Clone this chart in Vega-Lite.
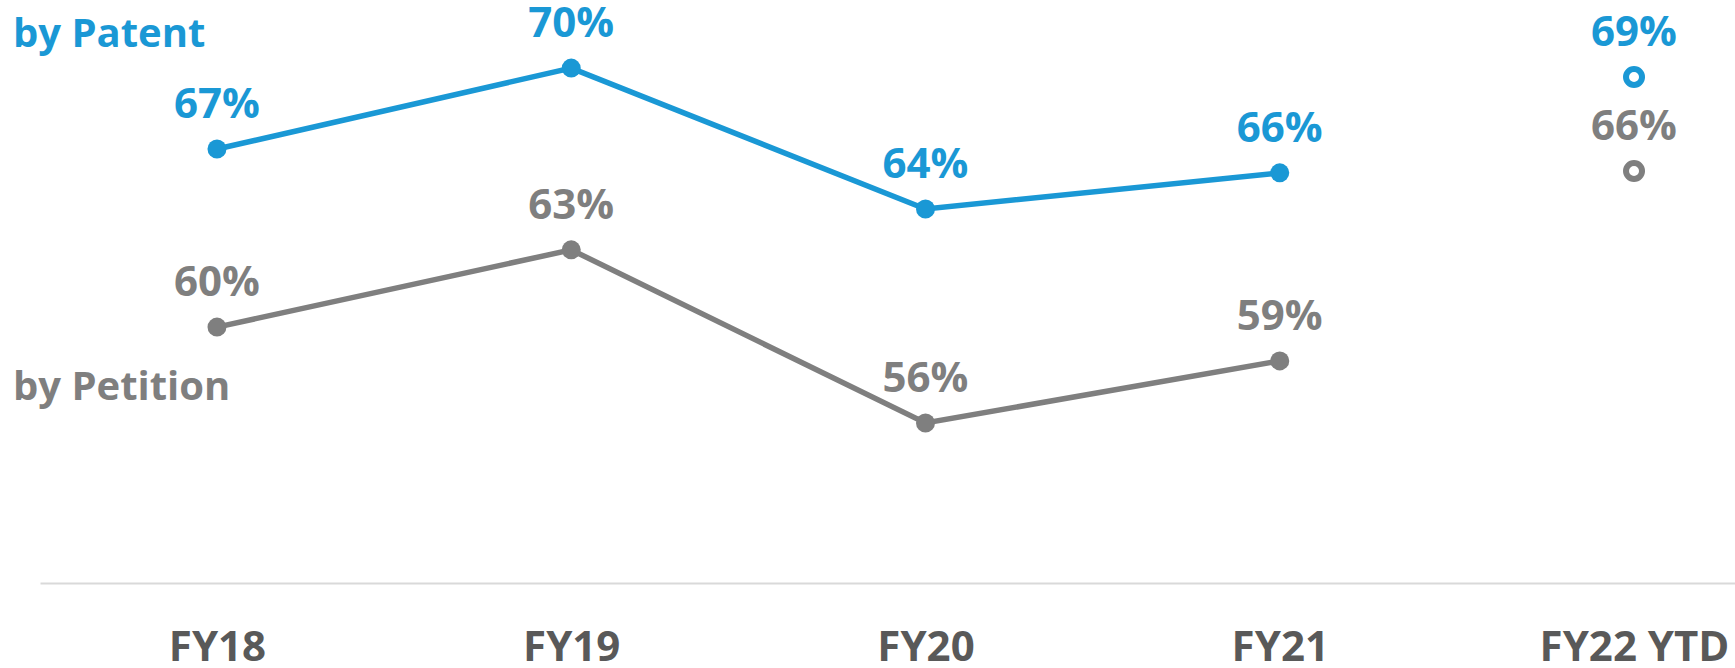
{
  "$schema": "https://vega.github.io/schema/vega-lite/v6.json",
  "width": 1695,
  "height": 583,
  "autosize": {"type": "none"},
  "padding": {"left": 40, "top": 0, "right": 0, "bottom": 85},
  "background": "white",
  "config": {
    "view": {"stroke": null},
    "font": "Open Sans"
  },
  "data": {
    "values": [
      {"year": "FY18", "series": "Patent", "value": 0.6674, "ytd": false},
      {"year": "FY19", "series": "Patent", "value": 0.6983, "ytd": false},
      {"year": "FY20", "series": "Patent", "value": 0.6445, "ytd": false},
      {"year": "FY21", "series": "Patent", "value": 0.6583, "ytd": false},
      {"year": "FY22 YTD", "series": "Patent", "value": 0.6949, "ytd": true},
      {"year": "FY18", "series": "Petition", "value": 0.5994, "ytd": false},
      {"year": "FY19", "series": "Petition", "value": 0.6289, "ytd": false},
      {"year": "FY20", "series": "Petition", "value": 0.5628, "ytd": false},
      {"year": "FY21", "series": "Petition", "value": 0.5865, "ytd": false},
      {"year": "FY22 YTD", "series": "Petition", "value": 0.6590, "ytd": true}
    ]
  },
  "encoding": {
    "x": {
      "field": "year",
      "type": "nominal",
      "sort": ["FY18", "FY19", "FY20", "FY21", "FY22 YTD"],
      "scale": {"type": "point", "domain": ["FY18", "FY19", "FY20", "FY21", "FY22 YTD"], "padding": 0.3923, "align": 0.6367},
      "axis": {
        "title": null,
        "labelAngle": 0,
        "ticks": false,
        "grid": false,
        "domainColor": "#d9d9d9",
        "domainWidth": 2,
        "labelFont": "Open Sans",
        "labelFontWeight": "bold",
        "labelFontSize": 42,
        "labelColor": "#595959",
        "labelBaseline": "alphabetic",
        "labelPadding": 77,
        "labelLimit": 0,
        "labelOverlap": false
      }
    },
    "y": {
      "field": "value",
      "type": "quantitative",
      "scale": {"domain": [0.5017, 0.7243], "zero": false, "nice": false},
      "axis": null
    }
  },
  "layer": [
    {
      "transform": [{"filter": "!datum.ytd"}],
      "mark": {"type": "line", "strokeWidth": 5.5},
      "encoding": {
        "color": {"field": "series", "type": "nominal", "scale": {"domain": ["Patent", "Petition"], "range": ["#1a98d5", "#7f7f7f"]}, "legend": null}
      }
    },
    {
      "transform": [{"filter": "!datum.ytd"}],
      "mark": {"type": "point", "filled": true, "size": 361, "opacity": 1, "shape": "circle"},
      "encoding": {
        "color": {"field": "series", "type": "nominal", "legend": null}
      }
    },
    {
      "transform": [{"filter": "datum.ytd"}],
      "mark": {"type": "point", "filled": false, "size": 256, "strokeWidth": 6, "opacity": 1, "shape": "circle"},
      "encoding": {
        "color": {"field": "series", "type": "nominal", "legend": null}
      }
    },
    {
      "mark": {"type": "text", "align": "center", "baseline": "alphabetic", "dy": -31, "font": "Open Sans", "fontWeight": "bold", "fontSize": 42},
      "encoding": {
        "text": {"field": "value", "type": "quantitative", "format": ".0%"},
        "color": {"field": "series", "type": "nominal", "legend": null}
      }
    },
    {
      "transform": [{"filter": "datum.year === 'FY18' && datum.series === 'Patent'"}],
      "mark": {"type": "text", "text": "by Patent", "align": "left", "baseline": "alphabetic", "dx": -204, "dy": -102, "font": "Open Sans", "fontWeight": "bold", "fontSize": 40},
      "encoding": {
        "color": {"field": "series", "type": "nominal", "legend": null}
      }
    },
    {
      "transform": [{"filter": "datum.year === 'FY18' && datum.series === 'Petition'"}],
      "mark": {"type": "text", "text": "by Petition", "align": "left", "baseline": "alphabetic", "dx": -204, "dy": 73, "font": "Open Sans", "fontWeight": "bold", "fontSize": 40},
      "encoding": {
        "color": {"field": "series", "type": "nominal", "legend": null}
      }
    }
  ]
}
